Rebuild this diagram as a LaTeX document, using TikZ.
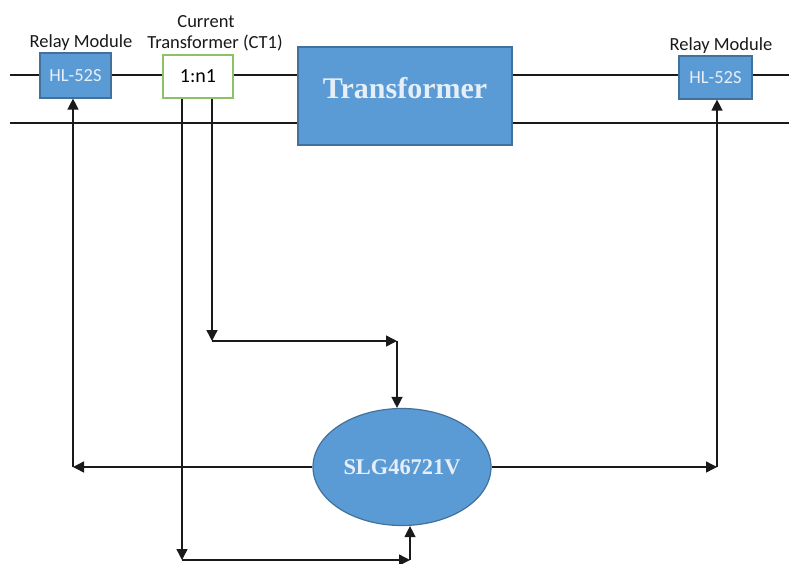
\documentclass[tikz,border=0pt]{standalone}
\usepackage{fontspec}
\usetikzlibrary{arrows.meta,shapes.geometric}
\newfontfamily\calib{Carlito}
\newfontfamily\timesr{Liberation Serif}
\definecolor{boxblue}{HTML}{5B9BD5}
\definecolor{boxedge}{HTML}{41719C}
\definecolor{boxtext}{HTML}{E6EFF8}
\definecolor{ctgreen}{HTML}{8CC168}
\definecolor{wirecol}{HTML}{1A1A1A}
\begin{document}
\begin{tikzpicture}[x=1pt,y=-1pt,
  bluebox/.style={draw=boxedge,fill=boxblue,line width=1.2pt,inner sep=0pt,text=boxtext},
  wire/.style={draw=wirecol,line width=1.4pt},
  arr/.style={wire,-{Triangle[length=11pt,width=11pt]}},
  calfont/.style={font=\calib\fontsize{18.5}{21}\selectfont},
  lbl/.style={calfont,text=black!90,inner sep=0pt,anchor=base}]
\useasboundingbox (0,0) rectangle (789,563);
\fill[white] (0,0) rectangle (789,563);
% power lines
\coordinate (tl) at (10,75); \coordinate (tr) at (789,75);
\coordinate (bl) at (10,123); \coordinate (br) at (789,123);
\draw[wire] (tl) -- (tr);
\draw[wire] (bl) -- (br);
% boxes
\node[bluebox,calfont,minimum width=71pt,minimum height=45pt] (relayL) at (75.5,75.5) {HL-52S};
\node[draw=ctgreen,fill=white,line width=1.5pt,font=\calib\fontsize{20}{24}\selectfont,minimum width=70pt,minimum height=43pt,inner sep=0pt] (ct) at (198,76.5) {1:n1};
\node[bluebox,minimum width=214pt,minimum height=98pt] (trafo) at (405,96) {};
\node[inner sep=0pt,anchor=base,text=boxtext,font=\timesr\bfseries\fontsize{30}{36}\selectfont] (trafotxt) at (405,98) {Transformer};
\node[bluebox,calfont,minimum width=73pt,minimum height=43pt] (relayR) at (715.5,77.5) {HL-52S};
% labels
\node[lbl] (lblL) at (81,47) {Relay Module};
\node[lbl] (lblR) at (721,50) {Relay Module};
\node[lbl] (ctl1) at (206,27) {Current};
\node[lbl] (ctl2) at (215,48) {Transformer (CT1)};
% controller
\node[ellipse,draw=boxedge,fill=boxblue,line width=1.2pt,minimum width=178pt,minimum height=117pt,inner sep=0pt,text=boxtext,font=\timesr\bfseries\fontsize{22.4}{26}\selectfont] (slg) at (402,467) {SLG46721V};
% connectors
\coordinate (lcorner) at (73,467);
\coordinate (rcorner) at (717,467);
\draw[arr] (slg.west) -- (lcorner);
\draw[arr] (lcorner) -- (relayL.south -| lcorner);
\draw[arr] (slg.east) -- (rcorner);
\draw[arr] (rcorner) -- (relayR.south -| rcorner);
\coordinate (ctA) at (182,560);
\coordinate (ctAend) at (410,560);
\draw[arr] (ct.south -| ctA) -- (ctA);
\draw[arr] (ctA) -- (ctAend);
\draw[arr] (ctAend) -- (ctAend |- slg.south);
\coordinate (ctB) at (212,341);
\coordinate (ctBend) at (397,341);
\draw[arr] (ct.south -| ctB) -- (ctB);
\draw[arr] (ctB) -- (ctBend);
\draw[arr] (ctBend) -- (ctBend |- slg.north);
\end{tikzpicture}
\end{document}
